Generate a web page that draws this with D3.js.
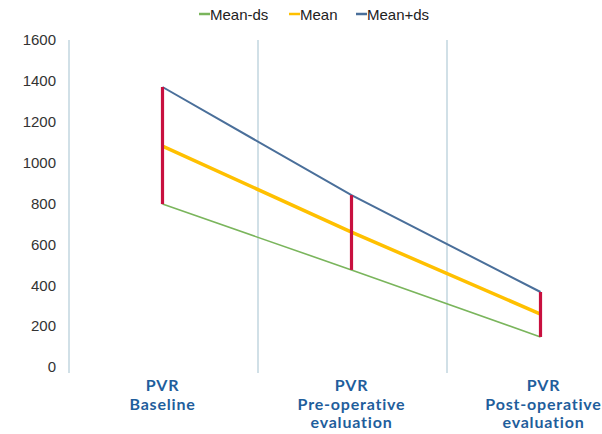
<!DOCTYPE html>
<html><head><meta charset="utf-8">
<script src="https://cdn.jsdelivr.net/npm/d3@7"></script>
<style>body{margin:0;background:#fff}svg{display:block}</style>
</head><body>
<script>
const categories = [["PVR","Baseline"],["PVR","Pre-operative","evaluation"],["PVR","Post-operative","evaluation"]];
const meanMinus = [797, 475, 147];
const meanVals = [1081, 660, 259];
const meanPlus = [1370, 841, 367];
const yTicks = [0,200,400,600,800,1000,1200,1400,1600];
const seriesNames = ["Mean-ds","Mean","Mean+ds"];
const colors = ["#7ab55c","#ffc000","#4a6f9a"];
const widths = [1.6, 3.5, 2];

const W=602,H=434;
const svg=d3.select("body").append("svg").attr("width",W).attr("height",H);
const x0=69, bw=189;
const x=d3.scaleBand().domain(d3.range(3)).range([x0,x0+3*bw]).paddingInner(0).paddingOuter(0);
const y=d3.scaleLinear().domain([0,1600]).range([367,40]);

// separators
svg.selectAll("line.sep").data(d3.range(4)).join("line")
  .attr("x1",i=>x0+i*bw).attr("x2",i=>x0+i*bw)
  .attr("y1",y(1600)).attr("y2",y(0)+6)
  .attr("stroke","#b9d0da").attr("stroke-width",1.3);

// y axis labels
const ya=svg.append("g").attr("transform",`translate(${x0},0)`)
  .call(d3.axisLeft(y).tickValues(yTicks).tickFormat(d3.format("d")).tickSize(0).tickPadding(13));
ya.select(".domain").remove();
ya.selectAll("text").attr("font-family","Liberation Sans, Arial").attr("font-size",15).attr("fill","#333");

const cx=i=>x(i)+x.bandwidth()/2-1;
const series=[meanMinus,meanVals,meanPlus];
const line=d3.line().x((d,i)=>cx(i)).y(d=>y(d));
series.forEach((s,k)=>{
  svg.append("path").attr("d",line(s)).attr("fill","none")
    .attr("stroke",colors[k]).attr("stroke-width",widths[k]);
});
// high-low lines
svg.selectAll("line.hl").data(d3.range(3)).join("line")
  .attr("x1",cx).attr("x2",cx)
  .attr("y1",i=>y(meanMinus[i])).attr("y2",i=>y(meanPlus[i]))
  .attr("stroke","#c8103f").attr("stroke-width",3.2);

// x labels
categories.forEach((lines,i)=>{
  const t=svg.append("text").attr("text-anchor","middle")
    .attr("font-family","Lato, sans-serif").attr("font-weight","bold")
    .attr("font-size",16).attr("letter-spacing",0.8).attr("fill","#1f5e9c");
  lines.forEach((l,j)=>t.append("tspan").attr("x",cx(i)+(i==2?3:0)).attr("y",391+j*18.5).text(l));
});

// legend
const lg=svg.append("g");
const lx=[199,289,356];
seriesNames.forEach((n,k)=>{
  const g=lg.append("g").attr("transform",`translate(${lx[k]},14)`);
  g.append("line").attr("x1",0).attr("x2",11).attr("y1",0).attr("y2",0)
    .attr("stroke",colors[k]).attr("stroke-width",2.5);
  g.append("text").attr("x",11).attr("y",5.5).text(n)
    .attr("font-family","Liberation Sans, Arial").attr("font-size",15).attr("fill","#222");
});
</script>
</body></html>
